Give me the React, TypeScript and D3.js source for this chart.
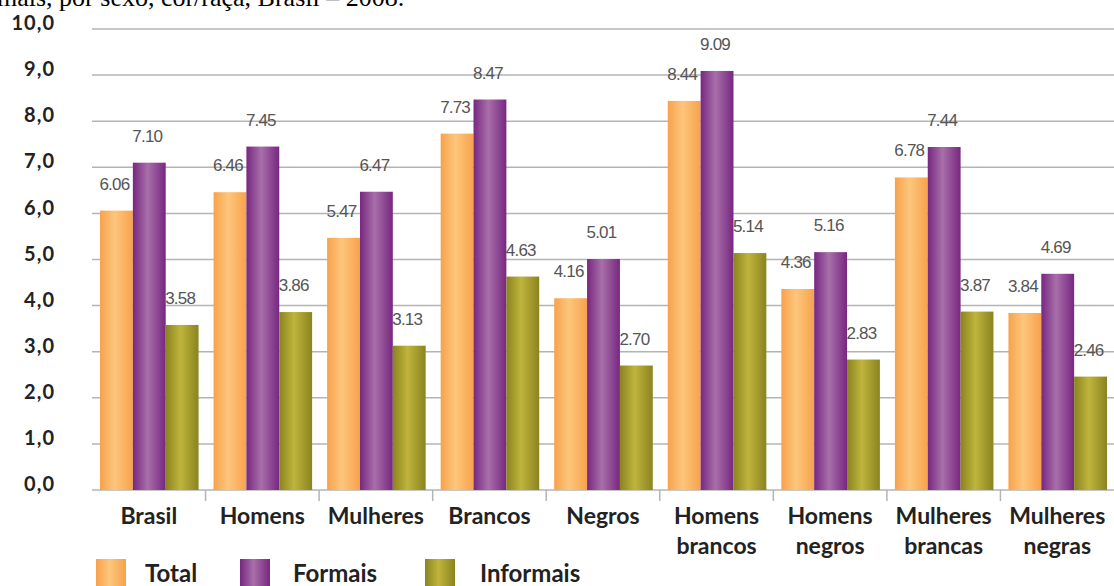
import React from "react";
import * as d3 from "d3";

const categories: string[][] = [
  ["Brasil"],
  ["Homens"],
  ["Mulheres"],
  ["Brancos"],
  ["Negros"],
  ["Homens", "brancos"],
  ["Homens", "negros"],
  ["Mulheres", "brancas"],
  ["Mulheres", "negras"],
];
const totalValues = [6.06, 6.46, 5.47, 7.73, 4.16, 8.44, 4.36, 6.78, 3.84];
const formaisValues = [7.1, 7.45, 6.47, 8.47, 5.01, 9.09, 5.16, 7.44, 4.69];
const informaisValues = [3.58, 3.86, 3.13, 4.63, 2.7, 5.14, 2.83, 3.87, 2.46];
const seriesNames = ["Total", "Formais", "Informais"];
const yTicks = [0, 1, 2, 3, 4, 5, 6, 7, 8, 9, 10];
const title = "mais, por sexo, cor/raça, Brasil – 2008.";

const gradients = [
  { id: "gTotal", edge: "#f7a24c", mid: "#fdc67c" },
  { id: "gFormais", edge: "#772780", mid: "#a86fa9" },
  { id: "gInformais", edge: "#8a8420", mid: "#bfb43c" },
];

export default function App() {
  const W = 1114;
  const H = 586;
  const left = 92;
  const right = 1114;
  const y0 = 490;
  const y10 = 29;

  const x = d3.scaleBand<number>().domain(d3.range(categories.length)).range([left, right]).paddingInner(0).paddingOuter(0);
  const inner = d3
    .scaleBand<number>()
    .domain([0, 1, 2])
    .range([8, x.bandwidth() - 7])
    .padding(0);
  const y = d3.scaleLinear().domain([0, 10]).range([y0, y10]);
  const series = [totalValues, formaisValues, informaisValues];
  const fmt = d3.format(".2f");
  const fmtTick = (v: number) => d3.format(".1f")(v).replace(".", ",");

  const labelFont = "Lato, 'Open Sans', sans-serif";

  return (
    <svg width={W} height={H} style={{ position: "absolute", left: 0, top: 0, background: "#fff" }}>
      <defs>
        {gradients.map((g) => (
          <linearGradient key={g.id} id={g.id} x1="0" x2="1" y1="0" y2="0">
            <stop offset="0" stopColor={g.edge} />
            <stop offset="0.45" stopColor={g.mid} />
            <stop offset="1" stopColor={g.edge} />
          </linearGradient>
        ))}
      </defs>
      <rect width={W} height={H} fill="#fff" />
      <text x={-3} y={6} fontFamily="'Liberation Serif', serif" fontSize={26} fill="#000">
        {title}
      </text>
      {yTicks.map((t) => (
        <g key={t}>
          <line x1={left} x2={right} y1={y(t)} y2={y(t)} stroke="#b4b4b4" strokeWidth={1.5} />
          <text
            x={55}
            y={y(t) - 4}
            textAnchor="end"
            dominantBaseline="middle"
            fontFamily={labelFont}
            fontWeight={700}
            fontSize={20}
            letterSpacing={1}
            fill="#222"
          >
            {fmtTick(t)}
          </text>
        </g>
      ))}
      {categories.map((c, i) => (
        <g key={i}>
          {i > 0 && (
            <line x1={x(i)!} x2={x(i)!} y1={y0} y2={y0 + 11} stroke="#b4b4b4" strokeWidth={1.5} />
          )}
          {c.map((line, j) => (
            <text
              key={j}
              x={x(i)! + x.bandwidth() / 2}
              y={524 + j * 30}
              textAnchor="middle"
              fontFamily={labelFont}
              fontWeight={700}
              fontSize={23}
              fill="#222"
            >
              {line}
            </text>
          ))}
        </g>
      ))}
      {series.map((vals, s) =>
        vals.map((v, i) => {
          const bx = x(i)! + inner(s)!;
          return (
            <g key={`${s}-${i}`}>
              <rect x={bx} y={y(v)} width={inner.bandwidth()} height={y0 - y(v)} fill={`url(#${gradients[s].id})`} />
              <text
                x={bx + inner.bandwidth() / 2 - 2}
                y={y(v) - 21}
                textAnchor="middle"
                fontFamily="'Liberation Sans', Arial, sans-serif"
                fontSize={17}
                letterSpacing={-0.8}
                fill="#555"
              >
                {fmt(v)}
              </text>
            </g>
          );
        })
      )}
      {seriesNames.map((n, s) => {
        const sx = [96, 240, 425][s];
        const tx = [145, 293, 480][s];
        return (
          <g key={n}>
            <rect x={sx} y={559} width={30} height={30} fill={`url(#${gradients[s].id})`} />
            <text x={tx} y={582} fontFamily={labelFont} fontWeight={700} fontSize={24} fill="#222">
              {n}
            </text>
          </g>
        );
      })}
    </svg>
  );
}
